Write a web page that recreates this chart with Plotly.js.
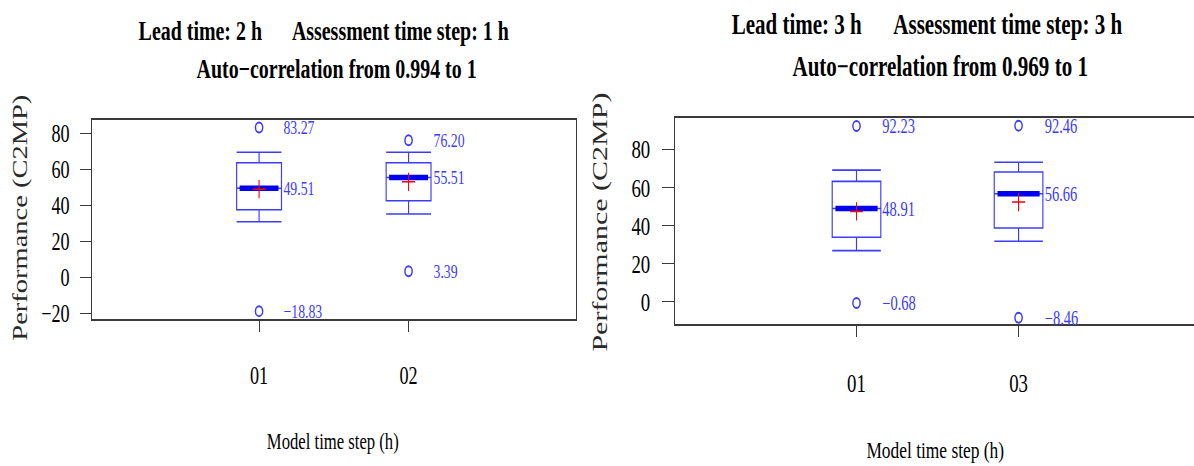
<!DOCTYPE html>
<html>
<head>
<meta charset="utf-8">
<script src="https://cdn.plot.ly/plotly-3.0.1.min.js"></script>
<style>
  html, body { margin: 0; padding: 0; background: #ffffff; }
  #frame { width: 1194px; height: 466px; overflow: hidden; position: relative; }
  /* the figure is laid out wide and then condensed horizontally */
  #chart { height: 466px; transform-origin: 0 0; }
</style>
</head>
<body>
<div id="frame"><div id="chart"></div></div>
<script>
// ---- Lead time 2 h, assessment step 1 h ----
const leftSteps = ['01', '02'];
const leftQ1 = [37.6, 42.6];
const leftMedian = [49.51, 55.51];
const leftQ3 = [63.7, 63.7];
const leftLowerWhisker = [30.9, 35.2];
const leftUpperWhisker = [69.6, 69.6];
const leftMean = [49.0, 53.1];
const leftHighOutlier = [83.27, 76.20];
const leftLowOutlier = [-18.83, 3.39];
const leftYTicks = [-20, 0, 20, 40, 60, 80];

// ---- Lead time 3 h, assessment step 3 h ----
const rightSteps = ['01', '03'];
const rightQ1 = [33.8, 38.7];
const rightMedian = [48.91, 56.66];
const rightQ3 = [63.2, 68.1];
const rightLowerWhisker = [26.8, 31.7];
const rightUpperWhisker = [69.1, 73.2];
const rightMean = [47.4, 52.3];
const rightHighOutlier = [92.23, 92.46];
const rightLowOutlier = [-0.68, -8.46];
const rightYTicks = [0, 20, 40, 60, 80];

const SQUEEZE = 0.725;
const W = Math.round(1194 / SQUEEZE);
const H = 466;
const chartDiv = document.getElementById('chart');
chartDiv.style.width = W + 'px';
chartDiv.style.transform = 'scaleX(' + SQUEEZE + ')';

const SERIF = '"Liberation Serif", "Times New Roman", Times, serif';
const BOX_BLUE = '#3c3cff';
const MED_BLUE = '#0000f0';
const LABEL_BLUE = '#3a3aff';
const NB = '\u00a0';

function fmt(v) {
  return v.toFixed(2).replace('-', '\u2212');
}

function panelTraces(steps, q1, med, q3, lo, hi, mean, outHi, outLo, xa, ya) {
  const pos = steps.map((_, i) => i + 1);
  const traces = [];
  traces.push({
    type: 'box', xaxis: xa, yaxis: ya,
    x: pos, q1: q1, median: med, q3: q3,
    lowerfence: lo, upperfence: hi,
    width: 0.3, whiskerwidth: 1,
    boxpoints: false,
    line: { color: BOX_BLUE, width: 1.6 },
    fillcolor: 'rgba(255,255,255,0)',
    hoverinfo: 'skip', showlegend: false
  });
  // heavy median bars
  const mx = [], my = [];
  pos.forEach((p, i) => { mx.push(p - 0.13, p + 0.13, null); my.push(med[i], med[i], null); });
  traces.push({
    type: 'scatter', mode: 'lines', xaxis: xa, yaxis: ya,
    x: mx, y: my,
    line: { color: MED_BLUE, width: 5.5 },
    hoverinfo: 'skip', showlegend: false
  });
  // means
  traces.push({
    type: 'scatter', mode: 'markers', xaxis: xa, yaxis: ya,
    x: pos, y: mean,
    marker: { symbol: 'cross-thin-open', size: 13, color: '#ff0000', line: { color: '#ff0000', width: 1.5 } },
    hoverinfo: 'skip', showlegend: false
  });
  // extreme values
  traces.push({
    type: 'scatter', mode: 'markers', xaxis: xa, yaxis: ya,
    x: pos.concat(pos), y: outHi.concat(outLo),
    marker: { symbol: 'circle-open', size: 10, color: BOX_BLUE, line: { color: BOX_BLUE, width: 2 } },
    hoverinfo: 'skip', showlegend: false
  });
  return traces;
}

function panelLabels(steps, med, outHi, outLo, xa, ya, shift, size) {
  const notes = [];
  steps.forEach((_, i) => {
    const p = i + 1;
    [outHi[i], med[i], outLo[i]].forEach(v => {
      notes.push({
        xref: xa, yref: ya, x: p, y: v, xanchor: 'left', yanchor: 'middle',
        xshift: shift, showarrow: false, text: fmt(v),
        font: { family: SERIF, size: size, color: LABEL_BLUE }
      });
    });
  });
  return notes;
}

const data = [].concat(
  panelTraces(leftSteps, leftQ1, leftMedian, leftQ3, leftLowerWhisker, leftUpperWhisker,
              leftMean, leftHighOutlier, leftLowOutlier, 'x', 'y'),
  panelTraces(rightSteps, rightQ1, rightMedian, rightQ3, rightLowerWhisker, rightUpperWhisker,
              rightMean, rightHighOutlier, rightLowOutlier, 'x2', 'y2')
);

function textNote(text, x, y, size, bold, angle, color) {
  return {
    xref: 'paper', yref: 'paper', x: x, y: y, xanchor: 'center', yanchor: 'middle',
    showarrow: false, text: bold ? '<b>' + text + '</b>' : text, textangle: angle || 0,
    font: { family: SERIF, size: size, color: color || '#000000' }
  };
}

const spacer = NB.repeat(6);
const annotations = [].concat(
  panelLabels(leftSteps, leftMedian, leftHighOutlier, leftLowOutlier, 'x', 'y', 32, 19),
  panelLabels(rightSteps, rightMedian, rightHighOutlier, rightLowOutlier, 'x2', 'y2', 34, 20),
  [
    textNote('Lead time: 2 h' + spacer + 'Assessment time step: 1 h', 0.2714, 0.9356, 27.5, true),
    textNote('Auto\u2212correlation from 0.994 to 1', 0.2822, 0.853, 27.5, true),
    textNote('Lead time: 3 h' + spacer + 'Assessment time step: 3 h', 0.7764, 0.948, 29, true),
    textNote('Auto\u2212correlation from 0.969 to 1', 0.7873, 0.858, 29, true),
    textNote('Performance (C2MP)', 0.0168, 0.532, 28.5, false, -90, '#2a2a2a'),
    textNote('Performance (C2MP)', 0.5025, 0.5236, 30, false, -90, '#2a2a2a'),
    textNote('Model time step (h)', 0.2789, 0.0536, 23, false),
    textNote('Model time step (h)', 0.7831, 0.0343, 24, false)
  ]
);

const frameLine = { showline: true, linecolor: '#3a3a3a', linewidth: 2, showgrid: false, zeroline: false };

const layout = {
  width: W, height: H,
  margin: { l: 0, r: 0, t: 0, b: 0 },
  paper_bgcolor: '#ffffff', plot_bgcolor: '#ffffff',
  showlegend: false,
  xaxis: Object.assign({}, frameLine, {
    domain: [0.0771, 0.4824], range: [-0.117, 3.12], mirror: true,
    tickmode: 'array', tickvals: leftSteps.map((_, i) => i + 1), ticktext: leftSteps,
    ticks: 'outside', ticklen: 11, tickcolor: '#3a3a3a', tickwidth: 1.4,
    ticklabelstandoff: 22,
    tickfont: { family: SERIF, size: 25, color: '#000000' }
  }),
  yaxis: Object.assign({}, frameLine, {
    domain: [0.3155, 0.7425], range: [-23.2, 87.5], mirror: true,
    tickmode: 'array', tickvals: leftYTicks,
    ticks: 'outside', ticklen: 15, tickcolor: '#3a3a3a', tickwidth: 1.4,
    ticklabelstandoff: 9,
    tickfont: { family: SERIF, size: 25, color: '#000000' }
  }),
  xaxis2: Object.assign({}, frameLine, {
    anchor: 'y2', domain: [0.5653, 1.0], range: [-0.12, 3.083], mirror: true,
    tickmode: 'array', tickvals: rightSteps.map((_, i) => i + 1), ticktext: rightSteps,
    ticks: 'outside', ticklen: 11, tickcolor: '#3a3a3a', tickwidth: 1.4,
    ticklabelstandoff: 24,
    tickfont: { family: SERIF, size: 26, color: '#000000' }
  }),
  yaxis2: Object.assign({}, frameLine, {
    anchor: 'x2', domain: [0.3041, 0.7461], range: [-11.9, 96.3], mirror: false,
    tickmode: 'array', tickvals: rightYTicks,
    ticks: 'outside', ticklen: 16, tickcolor: '#3a3a3a', tickwidth: 1.4,
    ticklabelstandoff: 11,
    tickfont: { family: SERIF, size: 26, color: '#000000' }
  }),
  annotations: annotations
};

Plotly.newPlot(chartDiv, data, layout, { displayModeBar: false, staticPlot: true });
</script>
</body>
</html>
